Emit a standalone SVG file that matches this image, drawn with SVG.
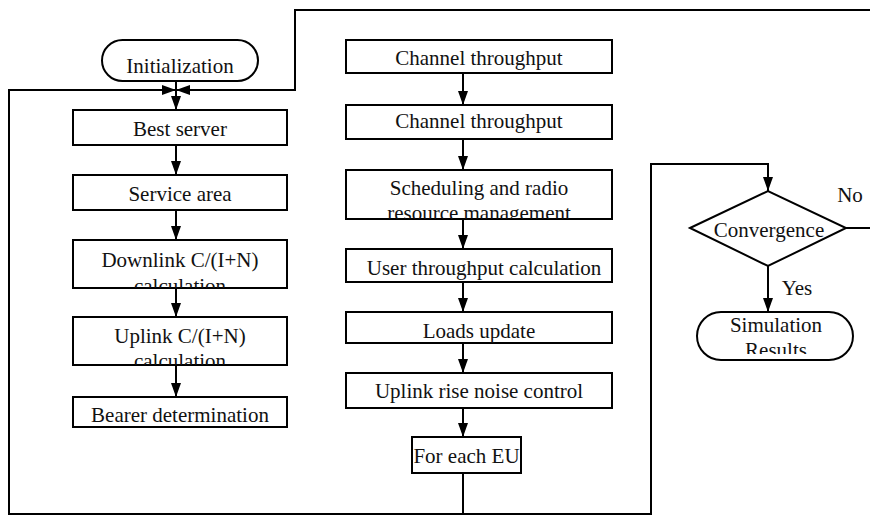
<svg xmlns="http://www.w3.org/2000/svg" width="870" height="516" viewBox="0 0 870 516">
<style>
.box{fill:#fff;stroke:#000;stroke-width:2}
.t{font-family:"Liberation Serif","Times New Roman",serif;font-size:21px;fill:#111;text-anchor:middle}
.c{fill:none;stroke:#000;stroke-width:2}
</style>
<defs>
<marker id="ah" viewBox="0 0 14 10" refX="14" refY="5" markerWidth="14" markerHeight="10" markerUnits="userSpaceOnUse" orient="auto"><path d="M0,0 L14,5 L0,10 z" fill="#000"/></marker>
<clipPath id="cDown"><rect x="73" y="240" width="214" height="48"/></clipPath>
<clipPath id="cUp"><rect x="73" y="317" width="214" height="48"/></clipPath>
<clipPath id="cSch"><rect x="346" y="170" width="266" height="49"/></clipPath>
<clipPath id="cSim"><rect x="697" y="312" width="156" height="42"/></clipPath>
</defs>
<rect width="870" height="516" fill="#fff"/>
<g id="connectors">
<path class="c" d="M176,81 V110" marker-end="url(#ah)"/>
<path class="c" d="M176,145 V175" marker-end="url(#ah)"/>
<path class="c" d="M176,210 V240" marker-end="url(#ah)"/>
<path class="c" d="M176,288 V317" marker-end="url(#ah)"/>
<path class="c" d="M176,365 V397" marker-end="url(#ah)"/>
<path class="c" d="M463,73 V105" marker-end="url(#ah)"/>
<path class="c" d="M463,139 V170" marker-end="url(#ah)"/>
<path class="c" d="M463,219 V249" marker-end="url(#ah)"/>
<path class="c" d="M463,282 V312" marker-end="url(#ah)"/>
<path class="c" d="M463,343 V373" marker-end="url(#ah)"/>
<path class="c" d="M463,408 V437" marker-end="url(#ah)"/>
<path class="c" d="M463,473 V514 H651 V164 H768 V191" marker-end="url(#ah)"/>
<path class="c" d="M463,514 H9 V90 H176" marker-end="url(#ah)"/>
<path class="c" d="M846,228 H870"/>
<path class="c" d="M870,10 H295 V90 H176" marker-end="url(#ah)"/>
<path class="c" d="M768,266 V312" marker-end="url(#ah)"/>
<text class="t" x="850" y="202">No</text>
<text class="t" x="797" y="295">Yes</text>
</g>
<g id="init"><rect class="box" x="102" y="40" width="156" height="41" rx="20.5"/><text class="t" x="180" y="73">Initialization</text></g>
<g id="best"><rect class="box" x="73" y="110" width="214" height="35"/><text class="t" x="180" y="136">Best server</text></g>
<g id="service"><rect class="box" x="73" y="175" width="214" height="35"/><text class="t" x="180" y="201">Service area</text></g>
<g id="downlink"><rect class="box" x="73" y="240" width="214" height="48"/><g clip-path="url(#cDown)"><text class="t" x="180" y="267">Downlink C/(I+N)</text><text class="t" x="180" y="293">calculation</text></g></g>
<g id="uplink"><rect class="box" x="73" y="317" width="214" height="48"/><g clip-path="url(#cUp)"><text class="t" x="180" y="343">Uplink C/(I+N)</text><text class="t" x="180" y="368">calculation</text></g></g>
<g id="bearer"><rect class="box" x="73" y="397" width="214" height="30"/><text class="t" x="180" y="422">Bearer determination</text></g>
<g id="ch1"><rect class="box" x="346" y="40" width="266" height="33"/><text class="t" x="479" y="65">Channel throughput</text></g>
<g id="ch2"><rect class="box" x="346" y="105" width="266" height="34"/><text class="t" x="479" y="128">Channel throughput</text></g>
<g id="sched"><rect class="box" x="346" y="170" width="266" height="49"/><g clip-path="url(#cSch)"><text class="t" x="479" y="195">Scheduling and radio</text><text class="t" x="479" y="220">resource management</text></g></g>
<g id="user"><rect class="box" x="346" y="249" width="266" height="33"/><text class="t" x="484" y="275">User throughput calculation</text></g>
<g id="loads"><rect class="box" x="346" y="312" width="266" height="31"/><text class="t" x="479" y="338">Loads update</text></g>
<g id="rise"><rect class="box" x="346" y="373" width="266" height="35"/><text class="t" x="479" y="398">Uplink rise noise control</text></g>
<g id="eu"><rect class="box" x="412" y="437" width="109" height="36"/><text class="t" x="466.5" y="463">For each EU</text></g>
<g id="conv"><path class="box" d="M690,228 L768,191 L846,228 L768,266 Z"/><text class="t" x="769" y="237">Convergence</text></g>
<g id="sim"><rect class="box" x="697" y="312" width="156" height="48" rx="24"/><g clip-path="url(#cSim)"><text class="t" x="776" y="332">Simulation</text><text class="t" x="776" y="357">Results</text></g></g>
</svg>
